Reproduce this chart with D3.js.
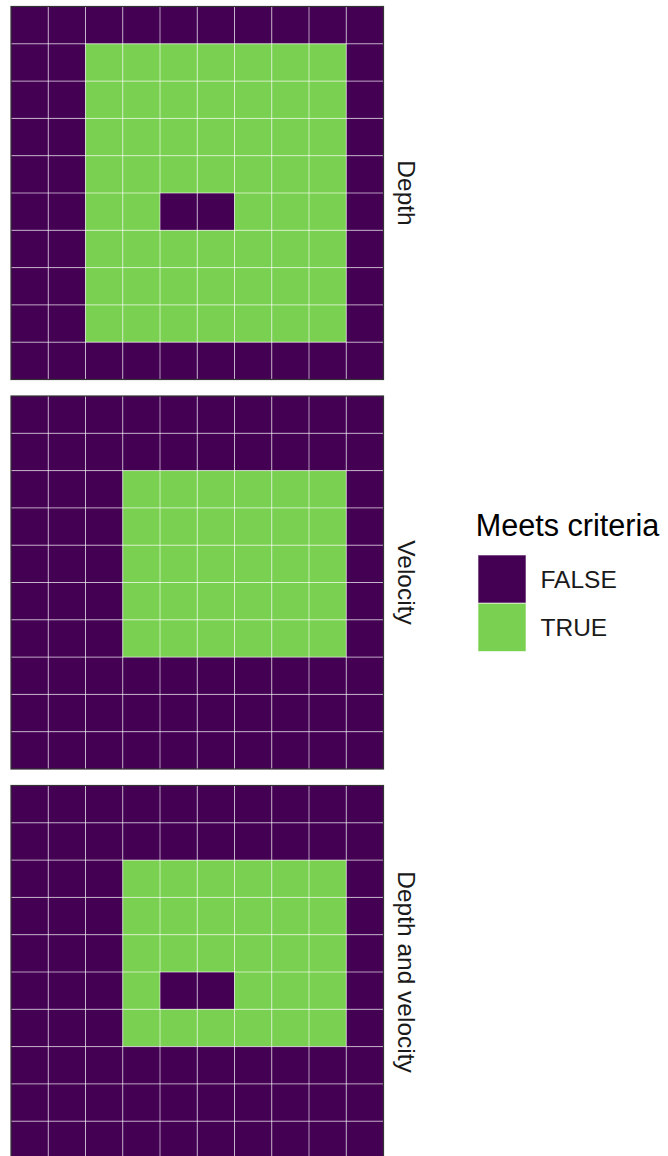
<!DOCTYPE html>
<html>
<head>
<meta charset="utf-8">
<script src="https://cdn.jsdelivr.net/npm/d3@7"></script>
<style>
  html, body { margin: 0; padding: 0; background: #ffffff; }
  svg { display: block; font-family: "Liberation Sans", Arial, sans-serif; }
</style>
</head>
<body>
<svg id="chart" width="668" height="1156"></svg>
<script>
// ---- data ----
const cols = [0, 1, 2, 3, 4, 5, 6, 7, 8, 9];
const rows = [0, 1, 2, 3, 4, 5, 6, 7, 8, 9]; // top to bottom
const facets = ["Depth", "Velocity", "Depth and velocity"];
const categories = ["FALSE", "TRUE"];
const legendTitle = "Meets criteria";

// 1 = TRUE (meets criteria), 0 = FALSE
const depthGrid = [
  [0,0,0,0,0,0,0,0,0,0],
  [0,0,1,1,1,1,1,1,1,0],
  [0,0,1,1,1,1,1,1,1,0],
  [0,0,1,1,1,1,1,1,1,0],
  [0,0,1,1,1,1,1,1,1,0],
  [0,0,1,1,0,0,1,1,1,0],
  [0,0,1,1,1,1,1,1,1,0],
  [0,0,1,1,1,1,1,1,1,0],
  [0,0,1,1,1,1,1,1,1,0],
  [0,0,0,0,0,0,0,0,0,0]
];
const velocityGrid = [
  [0,0,0,0,0,0,0,0,0,0],
  [0,0,0,0,0,0,0,0,0,0],
  [0,0,0,1,1,1,1,1,1,0],
  [0,0,0,1,1,1,1,1,1,0],
  [0,0,0,1,1,1,1,1,1,0],
  [0,0,0,1,1,1,1,1,1,0],
  [0,0,0,1,1,1,1,1,1,0],
  [0,0,0,0,0,0,0,0,0,0],
  [0,0,0,0,0,0,0,0,0,0],
  [0,0,0,0,0,0,0,0,0,0]
];
const bothGrid = [
  [0,0,0,0,0,0,0,0,0,0],
  [0,0,0,0,0,0,0,0,0,0],
  [0,0,0,1,1,1,1,1,1,0],
  [0,0,0,1,1,1,1,1,1,0],
  [0,0,0,1,1,1,1,1,1,0],
  [0,0,0,1,0,0,1,1,1,0],
  [0,0,0,1,1,1,1,1,1,0],
  [0,0,0,0,0,0,0,0,0,0],
  [0,0,0,0,0,0,0,0,0,0],
  [0,0,0,0,0,0,0,0,0,0]
];
const grids = [depthGrid, velocityGrid, bothGrid];

// ---- layout ----
const svg = d3.select("#chart");
const panelLeft = 11, panelW = 372.5, panelH = 373;
const panelTops = [6.5, 396, 785.5];

const color = d3.scaleOrdinal().domain(categories).range(["#440154", "#7AD151"]);
const x = d3.scaleBand().domain(cols).range([panelLeft, panelLeft + panelW]).padding(0);

facets.forEach((name, fi) => {
  const top = panelTops[fi];
  const y = d3.scaleBand().domain(rows).range([top, top + panelH]).padding(0);
  const g = svg.append("g");
  const cells = [];
  grids[fi].forEach((row, ri) => row.forEach((v, ci) => cells.push({ r: ri, c: ci, v: categories[v] })));

  g.selectAll("rect.cell").data(cells).join("rect")
    .attr("class", "cell")
    .attr("x", d => x(d.c))
    .attr("y", d => y(d.r))
    .attr("width", x.bandwidth())
    .attr("height", y.bandwidth())
    .attr("fill", d => color(d.v));

  // interior tile outlines
  g.selectAll("line.v").data(cols.slice(1)).join("line")
    .attr("class", "v")
    .attr("x1", d => x(d)).attr("x2", d => x(d))
    .attr("y1", top).attr("y2", top + panelH)
    .attr("stroke", "#ffffff").attr("stroke-opacity", 0.6).attr("stroke-width", 1);
  g.selectAll("line.h").data(rows.slice(1)).join("line")
    .attr("class", "h")
    .attr("y1", d => y(d)).attr("y2", d => y(d))
    .attr("x1", panelLeft).attr("x2", panelLeft + panelW)
    .attr("stroke", "#ffffff").attr("stroke-opacity", 0.6).attr("stroke-width", 1);

  // panel border
  g.append("rect")
    .attr("x", panelLeft).attr("y", top)
    .attr("width", panelW).attr("height", panelH)
    .attr("fill", "none").attr("stroke", "#333333").attr("stroke-width", 1.2);

  // strip label (right side, rotated)
  svg.append("text")
    .attr("transform", `translate(${panelLeft + panelW + 14},${top + panelH / 2}) rotate(90)`)
    .attr("text-anchor", "middle")
    .attr("font-size", 24.5)
    .attr("fill", "#1a1a1a")
    .text(name);
});

// ---- legend ----
const lg = svg.append("g");
lg.append("text")
  .attr("x", 475.7).attr("y", 536)
  .attr("font-size", 30.6)
  .attr("fill", "#000000")
  .text(legendTitle);

const keyY = d3.scaleBand().domain(categories).range([555, 651.5]).padding(0);
lg.selectAll("rect.key").data(categories).join("rect")
  .attr("class", "key")
  .attr("x", 478).attr("y", d => keyY(d))
  .attr("width", 48).attr("height", keyY.bandwidth())
  .attr("fill", d => color(d))
  .attr("stroke", "#ffffff").attr("stroke-opacity", 0.6).attr("stroke-width", 1);
lg.selectAll("text.lab").data(categories).join("text")
  .attr("class", "lab")
  .attr("x", 540.5)
  .attr("y", d => keyY(d) + keyY.bandwidth() / 2 + 8.8)
  .attr("font-size", 24.5)
  .attr("fill", "#1a1a1a")
  .text(d => d);
</script>
</body>
</html>
